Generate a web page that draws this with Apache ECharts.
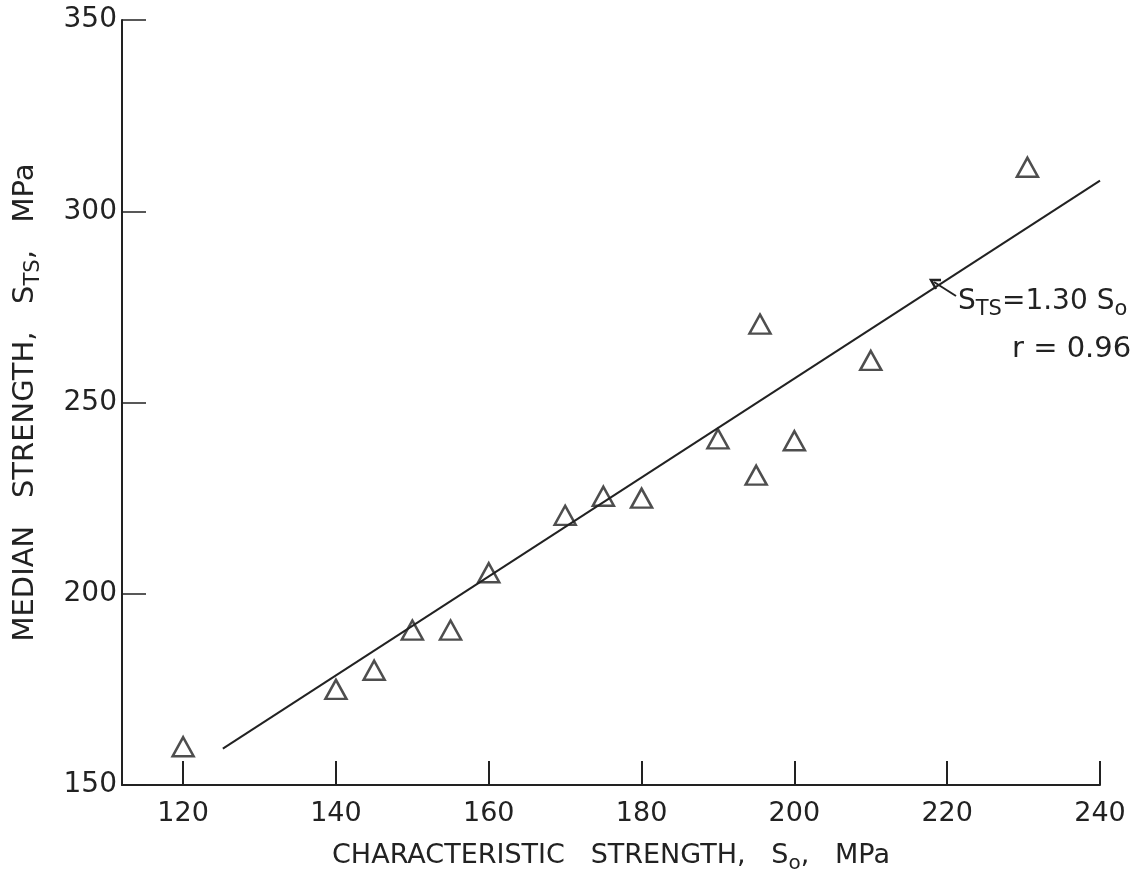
<!DOCTYPE html>
<html>
<head>
<meta charset="utf-8">
<script src="https://cdn.jsdelivr.net/npm/echarts@6/dist/echarts.min.js"></script>
<style>
html,body{margin:0;padding:0;background:#fff;}
#chart{width:1138px;height:881px;}
</style>
</head>
<body>
<div id="chart"></div>
<script>
// Data
const charStrength = [120, 140, 145, 150, 155, 160, 170, 175, 180, 190, 195, 195.5, 200, 210, 230.5];
const medianStrength = [160, 175, 180, 190.5, 190.5, 205.5, 220.5, 225.5, 225, 240.5, 231, 270.5, 240, 261, 311.5];
const fitX = [125.2, 240];
const fitY = [159.5, 308];
const xTicks = [120, 140, 160, 180, 200, 220, 240];
const yTicks = [150, 200, 250, 300, 350];

const ink = '#222';
const font = 'DejaVu Sans';

const chart = echarts.init(document.getElementById('chart'));
chart.setOption({
  backgroundColor: '#fff',
  animation: false,
  grid: {left: 122, right: 38, top: 20, bottom: 96, containLabel: false, outerBoundsMode: 'none'},
  xAxis: {
    type: 'value', min: 112, max: 240,
    splitLine: {show: false},
    axisLine: {lineStyle: {color: ink, width: 2}},
    axisTick: {show: true, inside: true, length: 24, lineStyle: {color: ink, width: 2},
      customValues: xTicks},
    axisLabel: {customValues: xTicks, color: ink, fontFamily: font, fontSize: 27, margin: 15},
    name: '{t|CHARACTERISTIC   STRENGTH,   S}{s|o}{t|,   MPa}',
    nameLocation: 'middle', nameGap: 53, nameMoveOverlap: false,
    nameTextStyle: {rich: {
      t: {fontFamily: font, fontSize: 27, color: ink},
      s: {fontFamily: font, fontSize: 20, color: ink, padding: [16,0,0,0]}
    }}
  },
  yAxis: {
    type: 'value', min: 150, max: 350,
    splitLine: {show: false},
    axisLine: {show: true, lineStyle: {color: ink, width: 2}},
    axisTick: {show: true, inside: true, length: 24, lineStyle: {color: ink, width: 1.5}, customValues: yTicks},
    axisLabel: {customValues: yTicks, color: ink, fontFamily: font, fontSize: 28, margin: 5},
    name: '{t|MEDIAN   STRENGTH,   S}{s|TS}{t|,   MPa}',
    nameLocation: 'middle', nameGap: 78, nameRotate: 90, nameMoveOverlap: false,
    nameTextStyle: {rich: {
      t: {fontFamily: font, fontSize: 29, color: ink},
      s: {fontFamily: font, fontSize: 21, color: ink, padding: [16,0,0,0]}
    }}
  },
  series: [
    {
      type: 'line', data: fitX.map((x, i) => [x, fitY[i]]),
      symbol: 'none', lineStyle: {color: ink, width: 2}, silent: true
    },
    {
      type: 'scatter', data: charStrength.map((x, i) => [x, medianStrength[i]]),
      symbol: 'triangle', symbolSize: [21, 19],
      itemStyle: {color: 'rgba(255,255,255,0)', borderColor: ink, borderWidth: 2.5}
    }
  ],
  graphic: [
    {type: 'line', shape: {x1: 956, y1: 296, x2: 934, y2: 282}, style: {stroke: ink, lineWidth: 2}},
    {type: 'polyline', shape: {points: [[941, 280], [931, 280], [936, 289]]}, style: {stroke: ink, lineWidth: 2.5, fill: null}},
    {type: 'text', left: 958, top: 288, style: {
      text: '{a|S}{b|TS}{a|=1.30 S}{b|o}',
      rich: {
        a: {fontFamily: font, fontSize: 28, fill: ink},
        b: {fontFamily: font, fontSize: 21, fill: ink, padding: [16,0,0,0]}
      }
    }},
    {type: 'text', left: 1012, top: 335, style: {
      text: 'r = 0.96', fontFamily: font, fontSize: 29, fill: ink
    }}
  ]
});
</script>
</body>
</html>
